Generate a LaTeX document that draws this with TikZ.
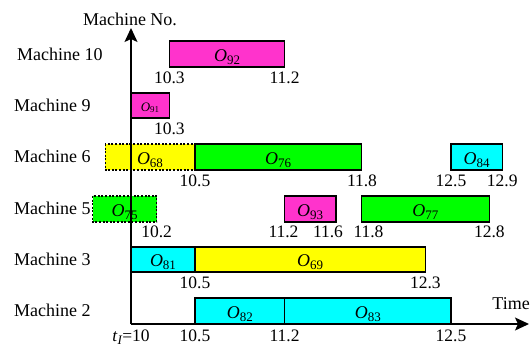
\documentclass[tikz,border=0pt]{standalone}
\usepackage{fontspec}
\setmainfont{Liberation Serif}
\usetikzlibrary{arrows.meta}
\definecolor{mag}{HTML}{FF33CC}
\definecolor{grn}{HTML}{00FF00}
\definecolor{yel}{HTML}{FFFF00}
\definecolor{cyn}{HTML}{00FFFF}
\newcommand{\opl}[1]{\textit{O}\raisebox{-2.5pt}{\fontsize{13}{13}\selectfont #1}}
\newcommand{\opsmall}[1]{{\fontsize{13}{13}\selectfont\textit{O}}\raisebox{-1.5pt}{\fontsize{9}{9}\selectfont #1}}
\begin{document}
\begin{tikzpicture}[x=1pt,y=-1pt,
  task/.style={draw=black, line width=1.4pt},
  dtask/.style={draw=black, line width=1.2pt, dash pattern=on 2pt off 1.6pt},
  olab/.style={anchor=base, inner sep=0pt, font=\fontsize{18}{18}\selectfont},
  num/.style={anchor=north, inner sep=0pt, font=\fontsize{17.5}{17.5}\selectfont},
  mlab/.style={anchor=west, inner sep=0pt, font=\fontsize{18}{18}\selectfont},
  axis/.style={line width=1.4pt, -{Stealth[length=14pt, width=13pt, inset=3pt]}}]
\useasboundingbox (0,0) rectangle (531,351);

% Machine 10
\draw[task, fill=mag] (169.4,41) rectangle (284.6,67);
\node[olab] (l92) at (227,61.5) {\opl{92}};
\node[num] (n10a) at (169.4,72) {10.3};
\node[num] (n10b) at (284.6,72) {11.2};

% Machine 9
\draw[task, fill=mag] (131,93) rectangle (169.4,118);
\node[olab] (l91) at (150,111) {\opsmall{91}};
\node[num] (n9a) at (169.4,123) {10.3};

% Machine 6
\draw[dtask, fill=yel] (105.4,144) rectangle (195,170);
\draw[task, fill=grn] (195,144) rectangle (361.4,170);
\draw[task, fill=cyn] (451,144) rectangle (502.2,170);
\node[olab] (l68) at (150,164.5) {\opl{68}};
\node[olab] (l76) at (278,164.5) {\opl{76}};
\node[olab] (l84) at (476.6,164.5) {\opl{84}};
\node[num] (n6a) at (195,175) {10.5};
\node[num] (n6b) at (362,175) {11.8};
\node[num] (n6c) at (451,175) {12.5};
\node[num] (n6d) at (502.2,175) {12.9};

% Machine 5
\draw[dtask, fill=grn] (92.6,196) rectangle (156.6,222);
\draw[task, fill=mag] (284.6,196) rectangle (335.8,222);
\draw[task, fill=grn] (361.4,196) rectangle (489.4,222);
\node[olab] (l75) at (124.6,216.5) {\opl{75}};
\node[olab] (l93) at (310.2,216.5) {\opl{93}};
\node[olab] (l77) at (425.4,216.5) {\opl{77}};
\node[num] (n5a) at (156.6,226) {10.2};
\node[num] (n5b) at (283.5,226) {11.2};
\node[num] (n5c) at (328,226) {11.6};
\node[num] (n5d) at (368.5,226) {11.8};
\node[num] (n5e) at (489.4,226) {12.8};

% Machine 3
\draw[task, fill=cyn] (131,247) rectangle (195,272);
\draw[task, fill=yel] (195,247) rectangle (425.4,272);
\node[olab] (l81) at (163,266.5) {\opl{81}};
\node[olab] (l69) at (310.2,266.5) {\opl{69}};
\node[num] (n3a) at (195,277) {10.5};
\node[num] (n3b) at (425.4,277) {12.3};

% Machine 2
\draw[task, fill=cyn] (195,298) rectangle (284.6,324);
\draw[task, fill=cyn] (284.6,298) rectangle (451,324);
\node[olab] (l82) at (239.8,318.5) {\opl{82}};
\node[olab] (l83) at (367.8,318.5) {\opl{83}};
\node[num] (n2a) at (131,330) {\textit{t}\raisebox{-2.5pt}{\fontsize{13}{13}\selectfont\textit{I}}=10};
\node[num] (n2b) at (195,330) {10.5};
\node[num] (n2c) at (284.6,330) {11.2};
\node[num] (n2d) at (451,330) {12.5};

% Machine labels
\node[mlab] (m10) at (17,54) {Machine 10};
\node[mlab] (m9) at (14,105.5) {Machine 9};
\node[mlab] (m6) at (14,156) {Machine 6};
\node[mlab] (m5) at (14,208) {Machine 5};
\node[mlab] (m3) at (14,259) {Machine 3};
\node[mlab] (m2) at (14,310) {Machine 2};

% Axes
\coordinate (orig) at (131,324);
\coordinate (ytip) at (131,28);
\coordinate (xtip) at (529,324);
\draw[axis] (orig) -- (ytip);
\draw[axis] (orig) -- (xtip);
\node[inner sep=0pt, font=\fontsize{18}{18}\selectfont] (ylab) at (130,19) {Machine No.};
\node[anchor=east, inner sep=0pt, font=\fontsize{18}{18}\selectfont] (xlab) at (530,304) {Time};
\end{tikzpicture}
\end{document}
